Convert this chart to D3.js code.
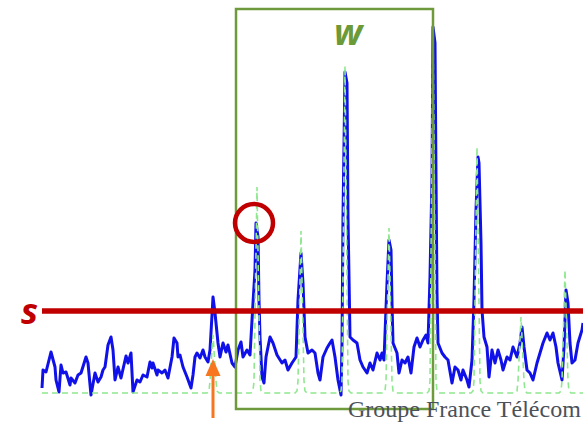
<!DOCTYPE html>
<html>
<head>
<meta charset="utf-8">
<script src="https://cdn.jsdelivr.net/npm/d3@7"></script>
<style>
  body { margin: 0; background: #fff; }
  svg { display: block; }
</style>
</head>
<body>
<script>
var width = 583;
var height = 422;

// received signal: sample index and amplitude
var sigT = [0, 1, 4, 9, 13, 14, 17, 19, 21, 24, 28, 29, 33, 36, 39, 44, 46, 49, 53, 56,
  59, 61, 63, 66, 69, 71, 73, 76, 79, 84, 86, 89, 91, 95, 98, 101, 105, 108, 110, 111,
  115, 116, 120, 123, 126, 130, 132, 135, 136, 138, 141, 145, 149, 151, 153, 155, 158, 161, 163, 166,
  168, 170, 171, 173, 176, 178, 181, 184, 186, 190, 193, 196, 199, 201, 205, 208, 211, 213, 214, 216,
  217, 218, 220, 222, 224, 228, 231, 235, 240, 243, 246, 250, 254, 256, 259, 261, 263, 266, 270, 273,
  276, 278, 281, 285, 288, 290, 293, 296, 299, 300, 301, 303, 305, 306, 308, 311, 315, 318, 321, 325,
  328, 331, 335, 338, 340, 342, 345, 347, 349, 350, 351, 355, 357, 360, 363, 366, 369, 372, 375, 378,
  381, 384, 386, 388, 390, 391, 393, 394, 395, 396, 400, 403, 406, 410, 413, 416, 419, 421, 425, 427,
  430, 432, 434, 436, 437, 439, 440, 442, 445, 447, 450, 453, 456, 459, 461, 465, 468, 471, 475, 478,
  480, 482, 485, 488, 491, 495, 498, 501, 505, 508, 511, 514, 516, 520, 522, 524, 526, 528, 530, 533,
  536, 540, 541];
var sigA = [5, 23, 21, 41, 26, 13, 1, 28, 20, 21, 8, 15, 10, 18, 20, 36, 30, -2, 20, 11,
  16, 23, 26, 48, 56, 43, 13, 26, 15, 37, 30, 40, 1, 13, 11, 18, 16, 31, 25, 30,
  18, 23, 20, 23, 15, 36, 55, 50, 36, 38, 26, 16, 5, 18, 36, 40, 35, 43, 36, 31,
  43, 78, 96, 80, 50, 36, 50, 41, 48, 30, 26, 43, 51, 36, 43, 38, 90, 123, 170, 156,
  93, 56, 16, 10, 36, 56, 50, 38, 30, 33, 23, 30, 36, 93, 140, 110, 56, 40, 43, 40,
  20, 13, 36, 45, 50, 53, 36, 13, -2, 50, 176, 321, 310, 176, 56, 53, 50, 33, 26, 20,
  30, 23, 40, 33, 40, 33, 110, 153, 143, 90, 50, 40, 20, 33, 30, 36, 20, 46, 55, 46,
  53, 58, 50, 116, 216, 366, 350, 216, 100, 50, 40, 36, 33, 10, 26, 23, 13, 23, 13, 6,
  33, 93, 183, 236, 230, 150, 83, 56, 46, 16, 43, 30, 43, 33, 23, 36, 33, 46, 36, 50,
  66, 46, 23, 20, 13, 30, 40, 50, 60, 53, 60, 46, 30, 13, 46, 103, 90, 50, 30, 33,
  50, 63, 70];

// expected pulse template (dashed): pulse positions and heights
var pulseT = [171, 215, 259, 303, 347, 391, 435, 479, 523];
var pulseA = [58, 206, 162, 327, 165, 369, 246, 76, 123];

var threshold = 82;          // s
var windowT = [194, 391];    // w
var windowA = [-16, 384];
var markedPulse = 1;         // circled peak
var arrowT = 170;            // first detection

var xScale = d3.scaleLinear().domain([0, 541]).range([42, 583]);
var yScale = d3.scaleLinear().domain([0, 368]).range([393, 25]);

var svg = d3.select("body")
  .append("svg")
  .attr("width", width)
  .attr("height", height);

// blue signal
var signal = sigT.map(function(t, i) { return [t, sigA[i]]; });
var line = d3.line()
  .x(function(d) { return xScale(d[0]); })
  .y(function(d) { return yScale(d[1]); });

svg.append("path")
  .datum(signal)
  .attr("fill", "none")
  .attr("stroke", "#1010e8")
  .attr("stroke-width", 3)
  .attr("stroke-linejoin", "round")
  .attr("d", line);

// dashed template, built from pulse list
var tmpl = [[0, 0]];
pulseT.forEach(function(c, i) {
  tmpl.push([c - 6, 0], [c - 4, 2], [c - 3, 12], [c, pulseA[i]], [c + 3, 12], [c + 4, 2], [c + 6, 0]);
});
tmpl.push([541, 0]);

svg.append("path")
  .datum(tmpl)
  .attr("fill", "none")
  .attr("stroke", "#8fe88f")
  .attr("stroke-width", 1.6)
  .attr("stroke-dasharray", "6,4")
  .attr("d", line);

// window box
svg.append("rect")
  .attr("x", xScale(windowT[0]))
  .attr("y", yScale(windowA[1]))
  .attr("width", xScale(windowT[1]) - xScale(windowT[0]))
  .attr("height", yScale(windowA[0]) - yScale(windowA[1]))
  .attr("fill", "none")
  .attr("stroke", "#6f9a3c")
  .attr("stroke-width", 2.5);

svg.append("text")
  .attr("x", 334)
  .attr("y", 45)
  .attr("font-family", "Open Sans")
  .attr("font-weight", "bold")
  .attr("font-style", "italic")
  .attr("font-size", "36px")
  .attr("fill", "#6b9a37")
  .text("w");

// threshold line
svg.append("line")
  .attr("x1", xScale(0))
  .attr("x2", xScale(541))
  .attr("y1", yScale(threshold))
  .attr("y2", yScale(threshold))
  .attr("stroke", "#c00000")
  .attr("stroke-width", 5.5);

svg.append("text")
  .attr("x", 21)
  .attr("y", 324)
  .attr("font-family", "Open Sans")
  .attr("font-weight", "bold")
  .attr("font-style", "italic")
  .attr("font-size", "36px")
  .attr("fill", "#c00000")
  .text("s");

// circled peak
svg.append("circle")
  .attr("cx", xScale(sigT[sigA.indexOf(170)]) - 2)
  .attr("cy", yScale(pulseA[markedPulse]) + 36)
  .attr("r", 19)
  .attr("fill", "none")
  .attr("stroke", "#c00000")
  .attr("stroke-width", 4.5);

// arrow
var ax = xScale(arrowT) + 1;
svg.append("line")
  .attr("x1", ax).attr("x2", ax)
  .attr("y1", 372).attr("y2", 418)
  .attr("stroke", "#f7761f")
  .attr("stroke-width", 3);
svg.append("path")
  .attr("d", "M" + (ax - 7.5) + ",376 L" + ax + ",359 L" + (ax + 7.5) + ",376 Z")
  .attr("fill", "#f7761f");

// footer
svg.append("text")
  .attr("x", 348)
  .attr("y", 417)
  .attr("font-family", "Liberation Serif")
  .attr("font-size", "24px")
  .attr("fill", "#4b5159")
  .text("Groupe France Télécom");
</script>
</body>
</html>
